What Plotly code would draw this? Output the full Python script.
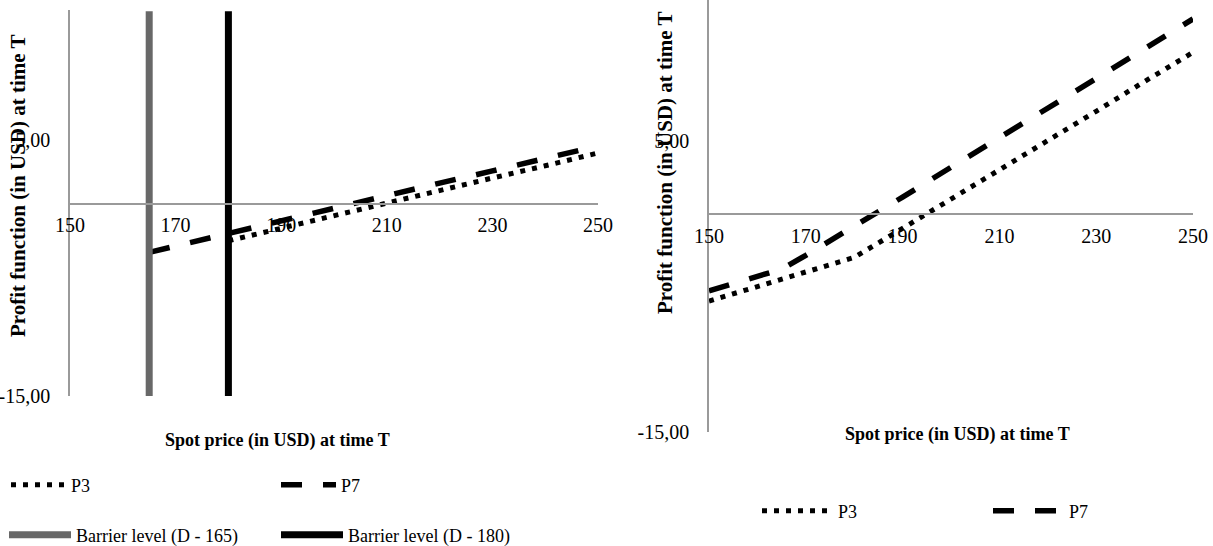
import plotly.graph_objects as go

# ---------------- data ----------------
# Left chart
left_p3_x = [180, 190, 200, 210, 220, 230, 240, 250]
left_p3_y = [-2.9, -1.9, -0.95, 0.05, 1.0, 2.0, 2.95, 3.95]
left_p7_x = [165, 170, 180, 190, 200, 210, 220, 230, 240, 250]
left_p7_y = [-3.8, -3.3, -2.35, -1.35, -0.4, 0.6, 1.6, 2.55, 3.55, 4.5]
barrier_165_x = [165, 165]
barrier_180_x = [180, 180]
barrier_y = [-15, 15]

# Right chart
right_p3_x = [150, 160, 170, 180, 190, 200, 210, 220, 230, 240, 250]
right_p3_y = [-6.0, -5.0, -4.05, -3.0, -1.0, 1.0, 3.05, 5.05, 7.05, 9.1, 11.1]
right_p7_x = [150, 160, 165, 170, 180, 190, 200, 210, 220, 230, 240, 250]
right_p7_y = [-5.3, -4.3, -3.8, -2.85, -0.9, 1.15, 3.2, 5.2, 7.25, 9.3, 11.35, 13.4]

x_ticks = [150, 170, 190, 210, 230, 250]
x_tick_text = ["150", "170", "190", "210", "230", "250"]
y_ticks = [-15, 5]
y_tick_text = ["-15,00", "5,00"]

x_title = "Spot price (in USD) at time T"
y_title = "Profit function (in USD) at time T"

# ---------------- layout helpers ----------------
W, H = 1213, 546
FONT = "Liberation Serif"
AXIS_COLOR = "#9a9a9a"

L_dom_x = [70 / W, 598 / W]
L_dom_y = [1 - 396 / H, 1 - 10 / H]
L_yrange = [-15, 15.1]
R_dom_x = [709 / W, 1193 / W]
R_dom_y = [1 - 432 / H, 1.0]
R_yrange = [-15, 14.7]


def zero_pos(dom, rng):
    return dom[0] + (0 - rng[0]) / (rng[1] - rng[0]) * (dom[1] - dom[0])


fig = go.Figure()

P3_STYLE = dict(color="black", width=5, dash="5px,7px")
P7_STYLE = dict(color="black", width=5.5, dash="21px,21px")

fig.add_trace(go.Scatter(x=left_p3_x, y=left_p3_y, mode="lines", name="P3",
                         line=P3_STYLE, xaxis="x", yaxis="y", legend="legend"))
fig.add_trace(go.Scatter(x=left_p7_x, y=left_p7_y, mode="lines", name="P7",
                         line=P7_STYLE, xaxis="x", yaxis="y", legend="legend"))
fig.add_trace(go.Scatter(x=barrier_165_x, y=barrier_y, mode="lines",
                         name="Barrier level (D - 165)",
                         line=dict(color="#686868", width=7), xaxis="x", yaxis="y",
                         legend="legend2"))
fig.add_trace(go.Scatter(x=barrier_180_x, y=barrier_y, mode="lines",
                         name="Barrier level (D - 180)",
                         line=dict(color="black", width=7), xaxis="x", yaxis="y",
                         legend="legend2"))

fig.add_trace(go.Scatter(x=right_p3_x, y=right_p3_y, mode="lines", name="P3",
                         line=P3_STYLE, xaxis="x2", yaxis="y2", legend="legend3"))
fig.add_trace(go.Scatter(x=right_p7_x, y=right_p7_y, mode="lines", name="P7",
                         line=P7_STYLE, xaxis="x2", yaxis="y2", legend="legend3"))

tick_font = dict(family=FONT, size=20, color="black")
common_x = dict(range=[150, 250], tickvals=x_ticks, ticktext=x_tick_text,
                showline=True, linecolor=AXIS_COLOR, linewidth=1.5,
                showgrid=False, zeroline=False, ticks="", tickfont=tick_font,
                ticklabelstandoff=4, anchor="free", automargin=False)
common_y = dict(tickvals=y_ticks, ticktext=y_tick_text, showline=True,
                linecolor=AXIS_COLOR, linewidth=1.5, showgrid=False,
                zeroline=False, ticks="", tickfont=tick_font, ticklabelstandoff=14,
                automargin=False)

legend_common = dict(orientation="h", font=dict(family=FONT, size=18, color="black"),
                     bgcolor="rgba(0,0,0,0)", borderwidth=0,
                     xanchor="left", yanchor="middle", tracegroupgap=0,
                     itemclick=False, itemdoubleclick=False)

fig.update_layout(
    width=W, height=H,
    margin=dict(l=0, r=0, t=0, b=0, autoexpand=False),
    paper_bgcolor="white", plot_bgcolor="white",
    font=dict(family=FONT, color="black"),
    xaxis=dict(domain=L_dom_x, position=zero_pos(L_dom_y, L_yrange), **common_x),
    yaxis=dict(domain=L_dom_y, range=L_yrange, anchor="x", **common_y),
    xaxis2=dict(domain=R_dom_x, position=zero_pos(R_dom_y, R_yrange), **common_x),
    yaxis2=dict(domain=R_dom_y, range=R_yrange, anchor="x2", **common_y),
    legend=dict(x=6 / W, y=1 - 485 / H, itemwidth=55, entrywidth=200, **legend_common),
    legend2=dict(x=4 / W, y=1 - 535 / H, itemwidth=62, entrywidth=195, **legend_common),
    legend3=dict(x=757 / W, y=1 - 511 / H, itemwidth=71, entrywidth=145, **legend_common),
    showlegend=True,
)

title_font = dict(family=FONT, size=18, color="black")
ytitle_font = dict(family=FONT, size=21, color="black")
fig.add_annotation(text="<b>%s</b>" % x_title, x=277 / W, y=1 - 440 / H,
                   xref="paper", yref="paper", showarrow=False, font=title_font,
                   xanchor="center", yanchor="middle")
fig.add_annotation(text="<b>%s</b>" % x_title, x=957 / W, y=1 - 435 / H,
                   xref="paper", yref="paper", showarrow=False, font=title_font,
                   xanchor="center", yanchor="middle")
fig.add_annotation(text="<b>%s</b>" % y_title, x=18 / W, y=1 - 186 / H,
                   xref="paper", yref="paper", showarrow=False, font=ytitle_font,
                   textangle=-90, xanchor="center", yanchor="middle")
fig.add_annotation(text="<b>%s</b>" % y_title, x=665 / W, y=1 - 163 / H,
                   xref="paper", yref="paper", showarrow=False, font=ytitle_font,
                   textangle=-90, xanchor="center", yanchor="middle")

fig.write_html("out.html",
               config={"displayModeBar": False},
               post_script="document.body.style.margin='0px';"
                           "document.body.style.overflow='hidden';")
